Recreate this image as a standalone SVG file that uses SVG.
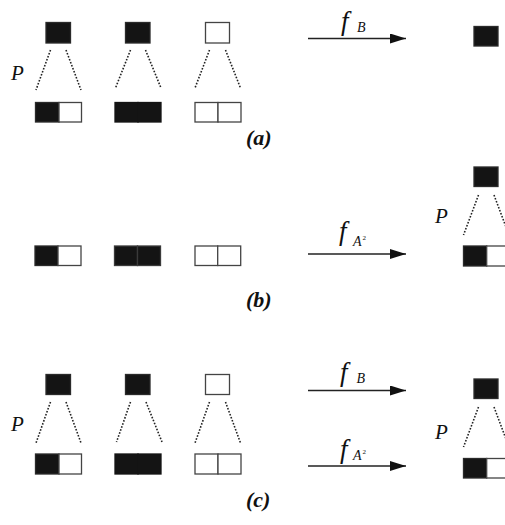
<svg xmlns="http://www.w3.org/2000/svg" width="505" height="525" viewBox="0 0 505 525">
<defs>
<style>
.bk{fill:#141414;stroke:#2a2a2a;stroke-width:1.3}
.bks{fill:#141414;stroke:#141414;stroke-width:1.3}
.wh{fill:#fff;stroke:#444;stroke-width:1.3}
.dot{stroke:#222;stroke-width:1.6;stroke-dasharray:1.6 1.6;fill:none}
.arr{stroke:#222;stroke-width:1.3;fill:none}
.P{font-family:"Liberation Serif",serif;font-style:italic;font-size:21px;fill:#111}
.f{font-family:"Liberation Serif",serif;font-style:italic;font-size:27px;fill:#111}
.sub{font-family:"Liberation Serif",serif;font-style:italic;font-size:14px;fill:#111}
.sup{font-family:"Liberation Serif",serif;font-size:7px;fill:#111}
.lab{font-family:"Liberation Serif",serif;font-style:italic;font-weight:bold;font-size:22px;fill:#111}
</style>
<marker id="ah" markerWidth="16" markerHeight="10" refX="16" refY="5" orient="auto" markerUnits="userSpaceOnUse">
<path d="M0,0 L16,5 L0,10 Z" fill="#111"/>
</marker>
</defs>
<rect width="505" height="525" fill="#fff"/>

<!-- (a) -->
<g id="a-tree1">
<rect class="bk" x="46" y="22.5" width="24.5" height="20.5"/>
<line class="dot" x1="50.5" y1="50" x2="36" y2="90"/>
<line class="dot" x1="66" y1="50" x2="81" y2="90"/>
<rect class="bk" x="35.5" y="102.5" width="23.5" height="19.5"/>
<rect class="wh" x="59" y="102.5" width="22.5" height="19.5"/>
</g>
<g id="a-tree2">
<rect class="bk" x="125.5" y="22.5" width="24.5" height="20.5"/>
<line class="dot" x1="130.5" y1="50" x2="115.5" y2="88"/>
<line class="dot" x1="145.5" y1="50" x2="161" y2="88"/>
<rect class="bks" x="115" y="102.5" width="23" height="19.5"/>
<rect class="bks" x="138" y="102.5" width="23" height="19.5"/>
</g>
<g id="a-tree3">
<rect class="wh" x="205.5" y="22.5" width="24" height="20.5"/>
<line class="dot" x1="209.5" y1="50" x2="195" y2="88"/>
<line class="dot" x1="225.5" y1="50" x2="240.5" y2="88"/>
<rect class="wh" x="195" y="102.5" width="23" height="19.5"/>
<rect class="wh" x="218" y="102.5" width="23" height="19.5"/>
</g>
<text class="P" x="11" y="80">P</text>
<g id="a-result">
<rect class="bk" x="474" y="26.5" width="24" height="19.5"/>
</g>
<text class="f" x="341" y="30">f</text>
<text class="sub" x="357" y="31.5">B</text>
<text class="lab" x="246" y="145">(a)</text>

<!-- (b) -->
<g id="b-pair1">
<rect class="bk" x="35" y="246" width="23" height="19.5"/>
<rect class="wh" x="58" y="246" width="23" height="19.5"/>
</g>
<g id="b-pair2">
<rect class="bk" x="114.5" y="246" width="23" height="19.5" style="stroke:#3a3a3a"/>
<rect class="bk" x="137.5" y="246" width="23" height="19.5" style="stroke:#3a3a3a"/>
</g>
<g id="b-pair3">
<rect class="wh" x="195" y="246" width="22.7" height="19.5"/>
<rect class="wh" x="217.7" y="246" width="23" height="19.5"/>
</g>
<g id="b-result">
<rect class="bk" x="474" y="167" width="24" height="19.5"/>
<line class="dot" x1="478.5" y1="195" x2="463.5" y2="235"/>
<line class="dot" x1="494" y1="195" x2="509" y2="235"/>
<rect class="bk" x="463.5" y="246" width="23.2" height="20"/>
<rect class="wh" x="486.7" y="246" width="23" height="20"/>
</g>
<text class="P" x="435" y="222.5">P</text>
<text class="f" x="339" y="240">f</text>
<text class="sub" x="353" y="246">A</text>
<text class="sup" x="362.5" y="240">2</text>
<text class="lab" x="246" y="307">(b)</text>

<!-- (c) -->
<g id="c-tree1">
<rect class="bk" x="46" y="374.5" width="24.5" height="20"/>
<line class="dot" x1="50.5" y1="402" x2="36" y2="443"/>
<line class="dot" x1="66" y1="402" x2="81" y2="443"/>
<rect class="bk" x="35.5" y="454" width="23.5" height="20"/>
<rect class="wh" x="59" y="454" width="22.5" height="20"/>
</g>
<g id="c-tree2">
<rect class="bk" x="125.5" y="374.5" width="24.5" height="20"/>
<line class="dot" x1="130.5" y1="402" x2="116.5" y2="442"/>
<line class="dot" x1="146" y1="402" x2="162" y2="442"/>
<rect class="bks" x="115" y="454" width="23" height="20"/>
<rect class="bks" x="138" y="454" width="23" height="20"/>
</g>
<g id="c-tree3">
<rect class="wh" x="205.5" y="374.5" width="24" height="20"/>
<line class="dot" x1="209.5" y1="402" x2="195" y2="443"/>
<line class="dot" x1="225.5" y1="402" x2="240.5" y2="443"/>
<rect class="wh" x="195" y="454" width="23" height="20"/>
<rect class="wh" x="218" y="454" width="23" height="20"/>
</g>
<text class="P" x="11" y="431">P</text>
<g id="c-result">
<rect class="bk" x="474" y="379" width="24" height="19.5"/>
<line class="dot" x1="478.5" y1="407" x2="463.5" y2="447"/>
<line class="dot" x1="494" y1="407" x2="509" y2="447"/>
<rect class="bk" x="463.5" y="458.5" width="23.2" height="19.5"/>
<rect class="wh" x="486.7" y="458.5" width="23" height="19.5"/>
</g>
<text class="P" x="435" y="439">P</text>
<text class="f" x="340" y="381">f</text>
<text class="sub" x="356.5" y="382.5">B</text>
<text class="f" x="340" y="458">f</text>
<text class="sub" x="353" y="460">A</text>
<text class="sup" x="362.5" y="454">2</text>
<text class="lab" x="246" y="507">(c)</text>

<g id="connectors">
<line class="arr" x1="308" y1="38.5" x2="406" y2="38.5" marker-end="url(#ah)"/>
<line class="arr" x1="308" y1="254" x2="406" y2="254" marker-end="url(#ah)"/>
<line class="arr" x1="308" y1="390.5" x2="406" y2="390.5" marker-end="url(#ah)"/>
<line class="arr" x1="308" y1="466" x2="406" y2="466" marker-end="url(#ah)"/>
</g>
</svg>
